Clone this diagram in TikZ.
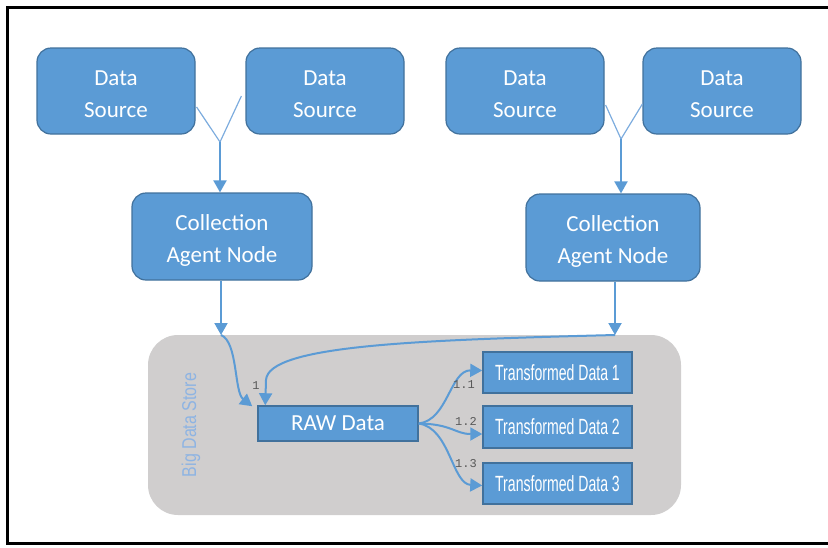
\documentclass[tikz,border=0pt]{standalone}
\usepackage{fontspec}
\setmainfont{Carlito}
\newfontfamily\narrowfont[FakeStretch=0.64]{Liberation Sans}
\newfontfamily\storefont[FakeStretch=0.8]{Liberation Sans}
\setmonofont{Liberation Mono}
\usetikzlibrary{arrows.meta,calc}
\definecolor{boxblue}{RGB}{91,155,213}
\definecolor{boxedge}{RGB}{65,113,156}
\definecolor{storegray}{RGB}{208,206,206}
\definecolor{storetext}{RGB}{142,180,227}
\definecolor{lblgray}{RGB}{89,89,89}
\definecolor{ylines}{RGB}{125,172,222}
\newcommand{\lowstrut}{\rule{0pt}{22pt}}
\begin{document}
\begin{tikzpicture}[x=1pt,y=-1pt,
  srcbox/.style={draw=boxedge, line width=1.2pt, fill=boxblue, rounded corners=14pt,
    text=white, align=center, font=\fontsize{23}{32}\selectfont, inner sep=0pt},
  rawbox/.style={draw=boxedge, line width=1.5pt, fill=boxblue, text=white,
    font=\fontsize{23}{28}\selectfont, inner sep=0pt},
  tdbox/.style={draw=boxedge, line width=1.5pt, fill=boxblue, text=white,
    font=\narrowfont\fontsize{22}{24}\selectfont, inner sep=0pt,
    minimum width=149pt},
  storebox/.style={fill=storegray, rounded corners=30pt, inner sep=0pt},
  arr/.style={draw=boxblue, line width=2pt, -{Triangle[length=12pt,width=13pt]}},
  yline/.style={draw=ylines, line width=1.2pt},
  lbl/.style={text=lblgray, font=\ttfamily\fontsize{12}{12}\selectfont, inner sep=0pt},
]
\useasboundingbox (0,0) rectangle (828,547);
% frame
\draw[line width=3pt] (840,7.5) -- (7,7.5) -- (7,543) -- (840,543);

% store
\node[storebox, minimum width=533pt, minimum height=180pt] (store) at (414.5,425) {};
\node[rotate=90, text=storetext, font=\storefont\fontsize{20}{20}\selectfont] (storelbl) at (191,425) {Big Data Store};

% sources
\node[srcbox, minimum width=158pt, minimum height=86pt] (ds1) at (116,91) {\lowstrut Data\\Source};
\node[srcbox, minimum width=158pt, minimum height=86pt] (ds2) at (325,91) {\lowstrut Data\\Source};
\node[srcbox, minimum width=158pt, minimum height=86pt] (ds3) at (525,91) {\lowstrut Data\\Source};
\node[srcbox, minimum width=158pt, minimum height=86pt] (ds4) at (722,91) {\lowstrut Data\\Source};

% collection agents
\node[srcbox, minimum width=180pt, minimum height=87pt] (ca1) at (222,236.5) {\rule{0pt}{23pt}Collection\\Agent Node};
\node[srcbox, minimum width=174pt, minimum height=87pt] (ca2) at (613,237.5) {\rule{0pt}{23pt}Collection\\Agent Node};

% raw and transformed
\node[rawbox, minimum width=160pt, minimum height=35pt] (raw) at (338,423.5) {RAW Data};
\node[tdbox, minimum height=41pt] (td1) at (557.5,372.5) {Transformed Data 1};
\node[tdbox, minimum height=42pt] (td2) at (557.5,427) {Transformed Data 2};
\node[tdbox, minimum height=41pt] (td3) at (557.5,483.5) {Transformed Data 3};

% junctions
\coordinate (j1) at (220,142);
\coordinate (j2) at (621,139);
\draw[yline] ($(ds1.east)+(1,16)$) -- (j1) -- ($(ds2.west)+(-4,5)$);
\draw[yline] ($(ds3.east)+(1,14)$) -- (j2) -- ($(ds4.west)+(0,13)$);
\draw[arr] (j1) -- (j1 |- ca1.north);
\draw[arr] (j2) -- (j2 |- ca2.north);

% into store
\coordinate (s1) at (221,335);
\coordinate (s2) at (615,335);
\draw[arr] (ca1.south -| s1) -- (s1);
\draw[arr] (ca2.south -| s2) -- (s2);

% into raw
\draw[arr] (s1) .. controls (238,342) and (234,392) .. ($(raw.north west)+(-5,1)$);
\draw[arr] (s2) .. controls (420,340) and (268,345) .. (266,380) -- ($(raw.north west)+(8,0)$);
\node[lbl] (l1) at (256,386) {1};

% branches
\draw[arr] (raw.east) .. controls (448,420) and (450,370) .. ($(td1.west)+(0,-2)$);
\draw[arr] (raw.east) .. controls (452,424) and (455,434) .. ($(td2.west)+(0,7)$);
\draw[arr] (raw.east) .. controls (450,428) and (452,484) .. ($(td3.west)+(0,2)$);
\node[lbl] (l11) at (464,385) {1.1};
\node[lbl] (l12) at (466,421) {1.2};
\node[lbl] (l13) at (466,464) {1.3};
\end{tikzpicture}
\end{document}
